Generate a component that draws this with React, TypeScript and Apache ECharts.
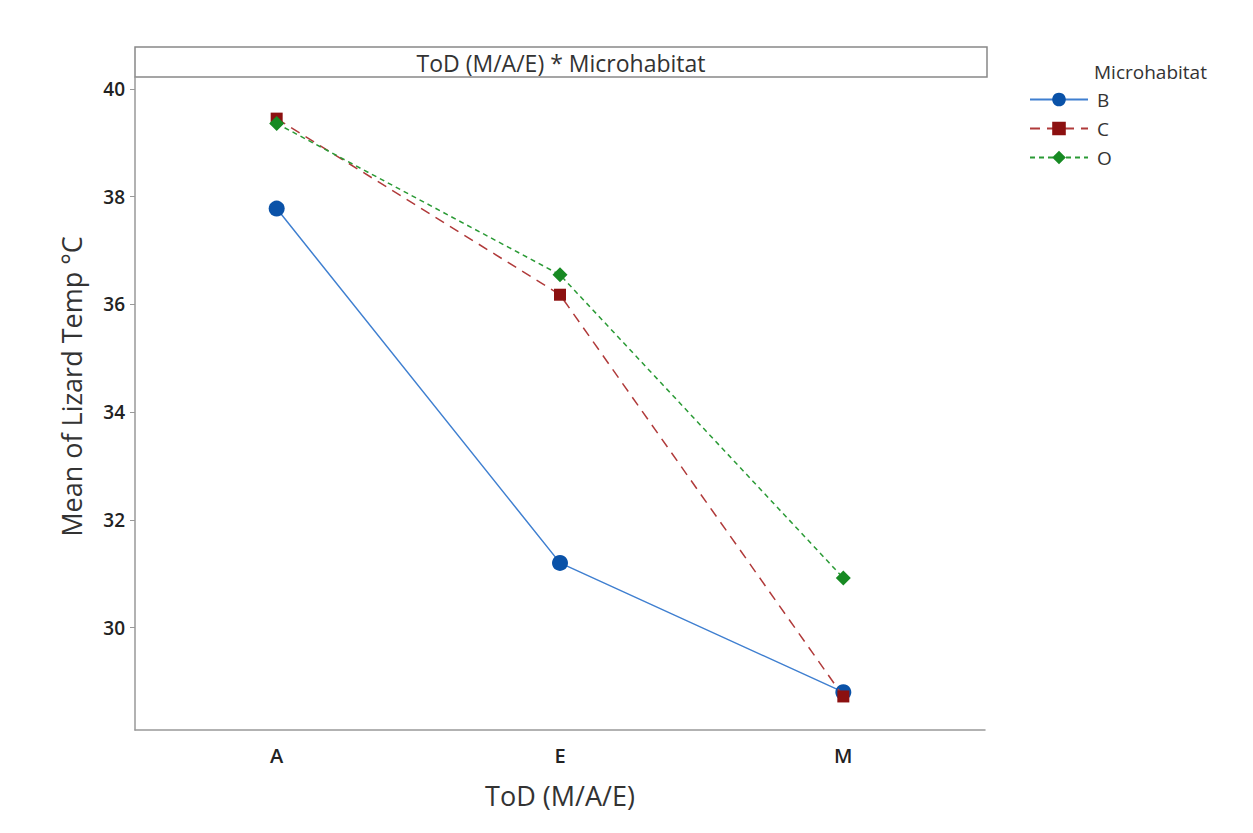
import React, { useEffect, useRef } from "react";
import * as echarts from "echarts";

const categories = ["A", "E", "M"];
const seriesNames = ["B", "C", "O"];
const valuesB = [37.78, 31.2, 28.8];
const valuesC = [39.45, 36.18, 28.72];
const valuesO = [39.36, 36.55, 30.92];
const yTicks = [30, 32, 34, 36, 38, 40];

const FONT = "'Open Sans', 'Noto Sans', sans-serif";

export default function App() {
  const ref = useRef<HTMLDivElement>(null);
  useEffect(() => {
    if (!ref.current) return;
    const chart = echarts.init(ref.current, null, { renderer: "svg" });
    chart.setOption({
      animation: false,
      backgroundColor: "#ffffff",
      grid: { left: 135, right: 268, top: 77, bottom: 103, containLabel: false },
      xAxis: {
        type: "category",
        data: categories,
        boundaryGap: true,
        name: "ToD (M/A/E)",
        nameLocation: "middle",
        nameGap: 52,
        nameTextStyle: { fontSize: 27, color: "#333", fontFamily: FONT },
        axisLine: { lineStyle: { color: "#999", width: 1.5 } },
        axisTick: { alignWithLabel: true, length: 5, lineStyle: { color: "#999" } },
        axisLabel: { fontSize: 20, fontWeight: 600, color: "#222", margin: 15, fontFamily: FONT },
        splitLine: { show: false },
      },
      yAxis: {
        type: "value",
        min: 28.097,
        max: 40.223,
        name: "Mean of Lizard Temp °C",
        nameLocation: "middle",
        nameGap: 50,
        nameTextStyle: { fontSize: 27, color: "#333", fontFamily: FONT, padding: [0, 0, 0, 34] },
        axisLine: { show: true, lineStyle: { color: "#999", width: 1.5 } },
        axisTick: { show: true, length: 5, customValues: yTicks, lineStyle: { color: "#999" } },
        axisLabel: { fontSize: 19, fontWeight: 600, color: "#222", margin: 10, customValues: yTicks, fontFamily: FONT },
        splitLine: { show: false },
      },
      legend: {
        orient: "vertical",
        left: 1024,
        top: 85,
        itemWidth: 58,
        itemHeight: 17,
        itemGap: 10,
        data: seriesNames,
        textStyle: { fontSize: 19, color: "#333", fontFamily: FONT, padding: [0, 0, 0, 4] },
      },
      graphic: [
        {
          type: "rect",
          shape: { x: 135, y: 47, width: 852, height: 30 },
          style: { fill: "#fff", stroke: "#888", lineWidth: 1.5 },
        },
        {
          type: "text",
          x: 561,
          y: 63,
          style: {
            text: "ToD (M/A/E) * Microhabitat",
            fontSize: 23,
            fill: "#333",
            fontFamily: FONT,
            align: "center",
            verticalAlign: "middle",
          },
        },
        {
          type: "text",
          x: 1094,
          y: 72,
          style: {
            text: "Microhabitat",
            fontSize: 19,
            fill: "#333",
            fontFamily: FONT,
            align: "left",
            verticalAlign: "middle",
          },
        },
      ],
      series: [
        {
          name: "B",
          type: "line",
          data: valuesB,
          symbol: "circle",
          symbolSize: 16,
          itemStyle: { color: "#0a52a8" },
          lineStyle: { color: "#3f7fd0", width: 1.5, type: "solid" },
          z: 3,
        },
        {
          name: "C",
          type: "line",
          data: valuesC,
          symbol: "rect",
          symbolSize: 12,
          itemStyle: { color: "#8c1010" },
          lineStyle: { color: "#b03a3a", width: 1.5, type: [10, 7] },
          z: 4,
        },
        {
          name: "O",
          type: "line",
          data: valuesO,
          symbol: "diamond",
          symbolSize: 15,
          itemStyle: { color: "#178a23" },
          lineStyle: { color: "#2a9a35", width: 1.5, type: [5, 4] },
          z: 5,
        },
      ],
    });
    return () => chart.dispose();
  }, []);
  return <div ref={ref} style={{ width: 1253, height: 833, position: "absolute", left: 0, top: 0 }} />;
}
